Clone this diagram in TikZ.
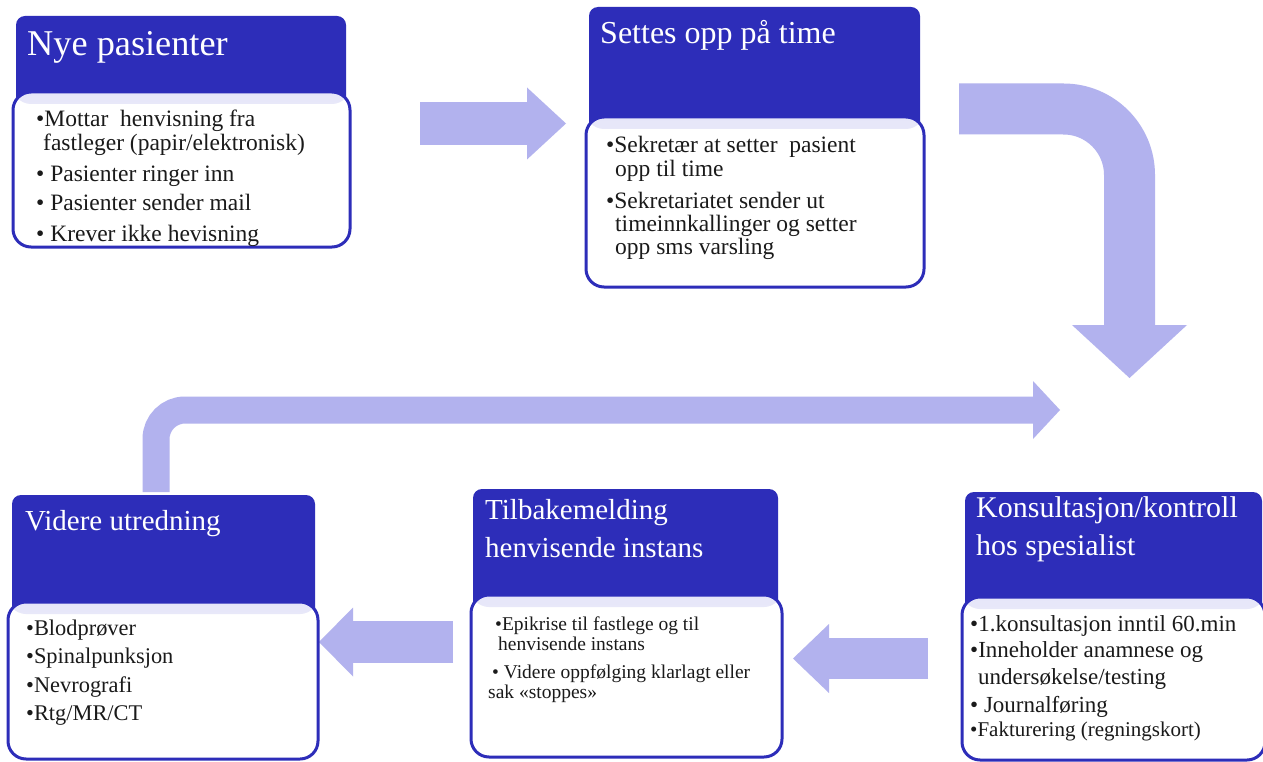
\documentclass[tikz,border=0pt]{standalone}
\usepackage{fontspec}
\setmainfont{Liberation Serif}
\usetikzlibrary{arrows.meta}
\definecolor{hdrblue}{RGB}{45,45,185}
\definecolor{arrowfill}{RGB}{178,178,238}
\definecolor{bandcol}{RGB}{230,230,249}
\definecolor{txt}{RGB}{26,26,26}
\begin{document}
\begin{tikzpicture}[x=1pt,y=-1pt,
  hdr/.style={fill=hdrblue, rounded corners=9pt, anchor=north west, inner sep=0pt, outer sep=0pt},
  bodybox/.style={fill=white, draw=hdrblue, line width=3pt, rounded corners=18pt, anchor=north west, inner sep=0pt, outer sep=0pt,
    path picture={\shade[top color=bandcol, bottom color=white] (path picture bounding box.north west) rectangle ([yshift=-12pt]path picture bounding box.north east);}},
  ttl/.style={anchor=base west, inner sep=0pt, text=white},
  ln/.style={anchor=base west, inner sep=0pt, text=txt},
  blockarrow/.style={draw=arrowfill}]
\useasboundingbox (0,0) rectangle (1263,762);
\fill[white] (0,0) rectangle (1263,762);

% arrow end points
\coordinate (a1s) at (420,123.5);
\coordinate (a1e) at (566,123.5);
\coordinate (a2s) at (959,109);
\coordinate (a2c) at (1129.5,109);
\coordinate (a2e) at (1129.5,378);
\coordinate (a3s) at (156,492);
\coordinate (a3c) at (156,410);
\coordinate (a3e) at (1060,410);
\coordinate (a4s) at (453,642);
\coordinate (a4e) at (319,642);
\coordinate (a5s) at (928,658.5);
\coordinate (a5e) at (793,658.5);

\draw[blockarrow, line width=43pt, -{Triangle[width=72pt,length=39pt,line width=0pt]}] (a1s) -- (a1e);
\draw[blockarrow, line width=51pt, rounded corners=66pt, -{Triangle[width=115pt,length=53pt,line width=0pt]}] (a2s) -- (a2c) -- (a2e);
\draw[blockarrow, line width=27pt, rounded corners=29pt, -{Triangle[width=58pt,length=27pt,line width=0pt]}] (a3s) -- (a3c) -- (a3e);
\draw[blockarrow, line width=42pt, -{Triangle[width=69pt,length=34pt,line width=0pt]}] (a4s) -- (a4e);
\draw[blockarrow, line width=41pt, -{Triangle[width=69pt,length=36pt,line width=0pt]}] (a5s) -- (a5e);

% Box 1
\node[hdr, minimum width=330pt, minimum height=96pt] (h1) at (16,16) {};
\node[bodybox, minimum width=337pt, minimum height=155pt] (b1) at (13,92) {};
\node[ttl, font=\fontsize{36.3}{40}\selectfont] (t1) at (27,56) {Nye pasienter};
\begin{scope}[font=\fontsize{23.5}{26}\selectfont]
\node[ln] (b1l1) at (36,127) {•Mottar\ \ henvisning fra};
\node[ln] (b1l2) at (43,151) {fastleger (papir/elektronisk)};
\node[ln] (b1l3) at (36,182) {• Pasienter ringer inn};
\node[ln] (b1l4) at (36,211) {• Pasienter sender mail};
\node[ln] (b1l5) at (36,241) {• Krever ikke hevisning};
\end{scope}

% Box 2
\node[hdr, minimum width=331pt, minimum height=130pt] (h2) at (589,7) {};
\node[bodybox, minimum width=338pt, minimum height=170pt] (b2) at (586,117) {};
\node[ttl, font=\fontsize{32}{36}\selectfont] (t2) at (600,44) {Settes opp på time};
\begin{scope}[font=\fontsize{23.5}{26}\selectfont]
\node[ln] (b2l1) at (606,153) {•Sekretær at setter\ \ pasient};
\node[ln] (b2l2) at (615,177) {opp til time};
\node[ln] (b2l3) at (606,208) {•Sekretariatet\ sender ut};
\node[ln] (b2l4) at (615,231) {timeinnkallinger og setter};
\node[ln] (b2l5) at (615,254) {opp sms varsling};
\end{scope}

% Box 3: Videre utredning
\node[hdr, minimum width=303pt, minimum height=127pt] (h3) at (12,495) {};
\node[bodybox, minimum width=310pt, minimum height=157pt] (b3) at (8,602) {};
\node[ttl, font=\fontsize{29}{34}\selectfont] (t3) at (25,530) {Videre utredning};
\begin{scope}[font=\fontsize{22.4}{25}\selectfont]
\node[ln] (b3l1) at (26,635) {•Blodprøver};
\node[ln] (b3l2) at (26,663) {•Spinalpunksjon};
\node[ln] (b3l3) at (26,692) {•Nevrografi};
\node[ln] (b3l4) at (26,720) {•Rtg/MR/CT};
\end{scope}

% Box 4: Tilbakemelding
\node[hdr, minimum width=305pt, minimum height=126pt] (h4) at (473,489) {};
\node[bodybox, minimum width=311pt, minimum height=162pt] (b4) at (471,595) {};
\node[ttl, font=\fontsize{29}{34}\selectfont] (t4a) at (485,519) {Tilbakemelding};
\node[ttl, font=\fontsize{29}{34}\selectfont] (t4b) at (485,557) {henvisende instans};
\begin{scope}[font=\fontsize{19.5}{22}\selectfont]
\node[ln] (b4l1) at (495,630) {•Epikrise til fastlege og til};
\node[ln] (b4l2) at (498,650) {henvisende instans};
\node[ln] (b4l3) at (492,678) {• Videre oppfølging klarlagt eller};
\node[ln] (b4l4) at (488,698) {sak «stoppes»};
\end{scope}

% Box 5: Konsultasjon
\node[hdr, minimum width=297pt, minimum height=125pt] (h5) at (965,492) {};
\node[bodybox, minimum width=303pt, minimum height=163pt] (b5) at (962,597) {};
\node[ttl, font=\fontsize{30}{35}\selectfont] (t5a) at (976,517) {Konsultasjon/kontroll};
\node[ttl, font=\fontsize{30}{35}\selectfont] (t5b) at (976,555) {hos spesialist};
\begin{scope}[font=\fontsize{23}{26}\selectfont]
\node[ln] (b5l1) at (970,631) {•1.konsultasjon inntil 60.min};
\node[ln] (b5l2) at (970,657) {•Inneholder anamnese og};
\node[ln] (b5l3) at (978,684) {undersøkelse/testing};
\node[ln] (b5l4) at (970,712) {• Journalføring};
\node[ln, font=\fontsize{21}{24}\selectfont] (b5l5) at (970,736) {•Fakturering (regningskort)};
\end{scope}
\end{tikzpicture}
\end{document}
